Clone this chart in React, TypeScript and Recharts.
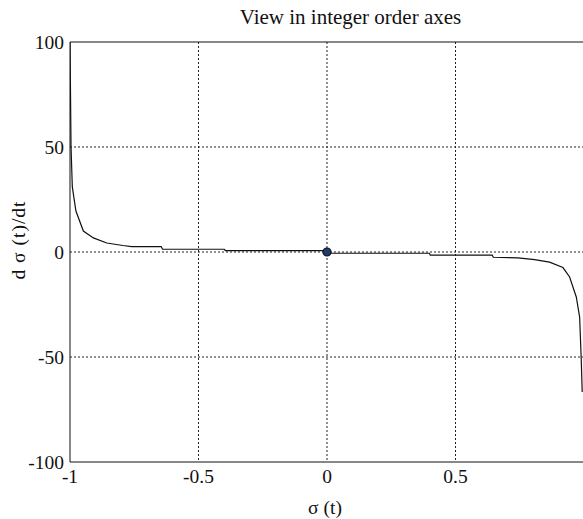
import React from "react";
import {
  LineChart,
  Line,
  XAxis,
  YAxis,
  CartesianGrid,
  ReferenceLine,
  ReferenceDot,
} from "recharts";

const sigma = [
  -1, -0.998, -0.996, -0.991, -0.977, -0.948, -0.909, -0.857, -0.794, -0.76,
  -0.645, -0.64, -0.4, -0.395, -0.003, 0.003, 0.398, 0.402, 0.643, 0.647,
  0.743, 0.808, 0.866, 0.918, 0.944, 0.97, 0.983, 0.989, 0.993,
];
const dSigma = [
  100, 75, 50, 31, 19.5, 10, 6.7, 4.3, 3.1, 2.6, 2.6, 1.3, 1.3, 0.7, 0.7, -0.6,
  -0.6, -1.5, -1.5, -2.5, -2.8, -3.6, -4.8, -7.4, -11.9, -21.4, -31, -50, -66.7,
];
const xTicks = [-1, -0.5, 0, 0.5];
const yTicks = [-100, -50, 0, 50, 100];
const titleText = "View in integer order axes";
const xLabel = "σ (t)";
const yLabel = "d σ (t)/dt";

const data = sigma.map((s, i) => ({ s, v: dSigma[i] }));

const FONT = "'Liberation Serif', 'DejaVu Serif', serif";

export default function App() {
  return (
    <div
      style={{
        position: "absolute",
        left: 0,
        top: 0,
        width: 583,
        height: 519,
        overflow: "hidden",
        background: "#fff",
      }}
    >
      <LineChart
        width={600}
        height={519}
        data={data}
        margin={{ top: 42, right: 16, left: 0, bottom: 0 }}
        style={{ position: "absolute", left: 0, top: 0 }}
      >
        <CartesianGrid
          stroke="#222"
          strokeDasharray="2 2"
          horizontalValues={[-50, 0, 50]}
          verticalValues={[-0.5, 0, 0.5]}
        />
        <XAxis
          dataKey="s"
          type="number"
          domain={[-1, 1]}
          ticks={xTicks}
          allowDataOverflow
          height={57}
          tickSize={0}
          tickMargin={7}
          stroke="#111"
          tick={{ fill: "#111", fontFamily: FONT, fontSize: 19.5 }}
        />
        <YAxis
          type="number"
          domain={[-100, 100]}
          ticks={yTicks}
          allowDataOverflow
          width={70}
          tickSize={0}
          tickMargin={6}
          stroke="#111"
          tick={{ fill: "#111", fontFamily: FONT, fontSize: 19.5 }}
        />
        <ReferenceLine y={100} stroke="#111" strokeWidth={1} />
        <ReferenceLine x={1} stroke="#111" strokeWidth={1} />
        <Line
          type="linear"
          dataKey="v"
          stroke="#111"
          strokeWidth={1.2}
          dot={false}
          isAnimationActive={false}
        />
        <ReferenceDot x={0} y={0} r={4} fill="#1f3b70" stroke="#111" strokeWidth={1.2} />
      </LineChart>
      <svg
        width={583}
        height={519}
        style={{ position: "absolute", left: 0, top: 0, pointerEvents: "none" }}
      >
        <text
          x={350.5}
          y={24}
          textAnchor="middle"
          fontFamily={FONT}
          fontSize={21}
          fill="#111"
        >
          {titleText}
        </text>
        <text
          x={325}
          y={514}
          textAnchor="middle"
          fontFamily={FONT}
          fontSize={19.5}
          fill="#111"
        >
          {xLabel}
        </text>
        <text
          x={0}
          y={0}
          transform="translate(25,240) rotate(-90)"
          textAnchor="middle"
          fontFamily={FONT}
          fontSize={19.5}
          letterSpacing={1}
          fill="#111"
        >
          {yLabel}
        </text>
      </svg>
    </div>
  );
}
